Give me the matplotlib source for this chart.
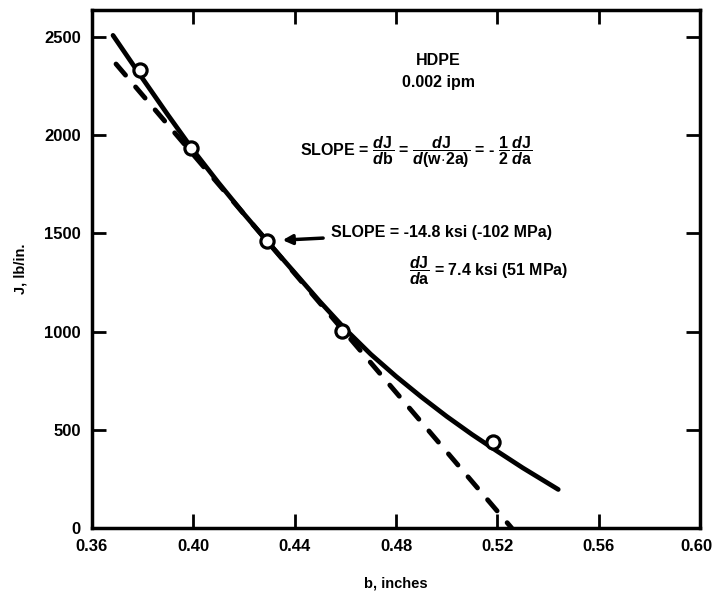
import matplotlib
matplotlib.use("Agg")
import matplotlib.pyplot as plt
import matplotlib.transforms as mtransforms

plt.rcParams['font.family'] = ['Liberation Sans', 'DejaVu Sans']
plt.rcParams['font.weight'] = 'bold'
plt.rcParams['mathtext.fontset'] = 'custom'
plt.rcParams['mathtext.rm'] = 'Liberation Sans:bold'
plt.rcParams['mathtext.it'] = 'Liberation Sans:italic:bold'
plt.rcParams['mathtext.bf'] = 'Liberation Sans:bold'

# measured points
b_pts = [0.379, 0.399, 0.429, 0.4587, 0.5183]
J_pts = [2332, 1935, 1461, 1003, 438]

# hand-drawn solid curve
b_fit = [0.3683, 0.379, 0.39, 0.40, 0.41, 0.42, 0.43, 0.44, 0.45, 0.46,
         0.47, 0.48, 0.49, 0.50, 0.51, 0.52, 0.53, 0.544]
J_fit = [2509, 2307, 2103, 1923, 1757, 1599, 1448, 1300, 1152, 1012,
         885, 772, 667, 568, 476, 390, 306, 196]

# tangent line, slope about -14.8 ksi
b_tan = [0.3695, 0.5256]
J_tan = [2363, 0]

x_ticks = [0.36, 0.40, 0.44, 0.48, 0.52, 0.56, 0.60]
y_ticks = [0, 500, 1000, 1500, 2000, 2500]

fig = plt.figure(figsize=(7.13, 6.02), dpi=100)
ax = fig.add_axes([0.129, 0.123, 0.853, 0.860])

ax.plot(b_fit, J_fit, color='black', lw=3.4, solid_capstyle='round')
ax.plot(b_tan, J_tan, color='black', lw=3.5, dashes=(3.0, 3.2),
        dash_capstyle='round')
ax.plot(b_pts, J_pts, 'o', ms=9.5, mfc='white', mec='black', mew=2.3, zorder=5)

ax.set_xlim(0.36, 0.60)
ax.set_ylim(0, 2637)
ax.set_xticks(x_ticks)
ax.set_yticks(y_ticks)
ax.set_xticklabels(['%.2f' % v for v in x_ticks])
ax.tick_params(direction='in', length=10, width=2, top=True, right=True,
               labelsize=12, pad=8)
for s in ax.spines.values():
    s.set_linewidth(2.5)

# keep the last x label inside the figure, flush with the right edge
last = ax.get_xticklabels()[-1]
last.set_ha('right')
last.set_transform(last.get_transform() +
                   mtransforms.ScaledTranslation(0.12, 0, fig.dpi_scale_trans))

ax.set_xlabel('b, inches', fontsize=10.5, fontweight='bold', labelpad=16)
ax.set_ylabel('J, lb/in.', fontsize=10.5, fontweight='bold', labelpad=12)

ax.text(0.569, 0.895, 'HDPE', transform=ax.transAxes, ha='center', fontsize=11.5)
ax.text(0.569, 0.851, '0.002 ipm', transform=ax.transAxes, ha='center', fontsize=11.5)
ax.text(0.342, 0.726,
        r'SLOPE = $\dfrac{\mathit{d}\mathrm{J}}{\mathit{d}\mathrm{b}}$ = '
        r'$\dfrac{\mathit{d}\mathrm{J}}{\mathit{d}\mathrm{(w\!\cdot\!2a)}}$ = - '
        r'$\dfrac{\mathrm{1}}{\mathrm{2}}\,\dfrac{\mathit{d}\mathrm{J}}{\mathit{d}\mathrm{a}}$',
        transform=ax.transAxes, fontsize=11.5, va='center')
ax.annotate('SLOPE = -14.8 ksi (-102 MPa)', xy=(0.4352, 1466), xytext=(0.4545, 1507),
            fontsize=11.5, va='center',
            arrowprops=dict(arrowstyle='-|>', color='black', lw=2.5,
                            mutation_scale=14, shrinkA=4, shrinkB=0))
ax.text(0.521, 0.498,
        r'$\dfrac{\mathit{d}\mathrm{J}}{\mathit{d}\mathrm{a}}$ = 7.4 ksi (51 MPa)',
        transform=ax.transAxes, fontsize=11.5, va='center')

fig.savefig('out.png', dpi=100)
